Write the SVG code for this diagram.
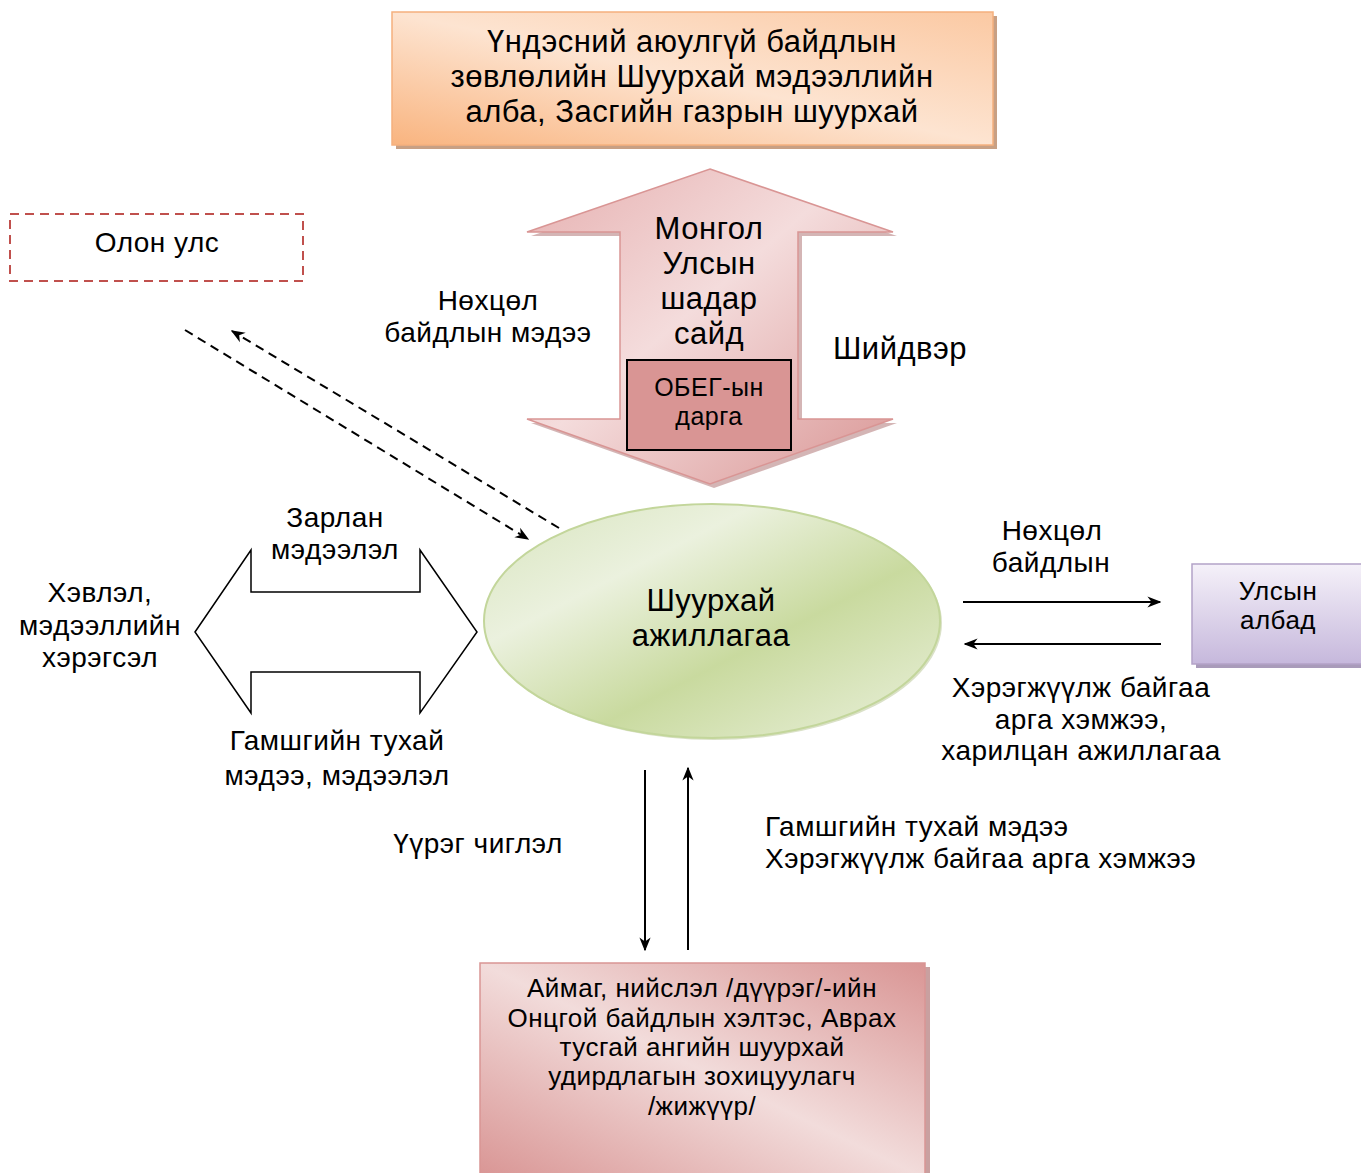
<svg xmlns="http://www.w3.org/2000/svg" width="1361" height="1173" viewBox="0 0 1361 1173">
<style>
text{font-family:"Liberation Sans",Arial,sans-serif;fill:#000;text-anchor:middle;letter-spacing:0.5px}
.t28{font-size:31px}
.t26{font-size:28px}
.t24{font-size:26px}
.t22{font-size:25px}
.ln{stroke:#000;stroke-width:2;fill:none}
.dash{stroke:#000;stroke-width:2;fill:none;stroke-dasharray:9 6}
</style>
<defs>
<linearGradient id="gOrange" x1="0" y1="1" x2="1" y2="0">
<stop offset="0" stop-color="#f9b47f"/>
<stop offset="0.5" stop-color="#fde4d1"/>
<stop offset="1" stop-color="#fbc9a3"/>
</linearGradient>
<linearGradient id="gPinkArrow" x1="0" y1="0" x2="1" y2="1">
<stop offset="0" stop-color="#e6b0b0"/>
<stop offset="0.45" stop-color="#f4dcdc"/>
<stop offset="1" stop-color="#d99594"/>
</linearGradient>
<linearGradient id="gPinkBox" x1="1" y1="0" x2="0" y2="1">
<stop offset="0" stop-color="#d99594"/>
<stop offset="0.5" stop-color="#f2dcdb"/>
<stop offset="1" stop-color="#d99594"/>
</linearGradient>
<linearGradient id="gGreen" x1="0" y1="0" x2="1" y2="1">
<stop offset="0" stop-color="#d7e4bd"/>
<stop offset="0.3" stop-color="#ebf1de"/>
<stop offset="0.6" stop-color="#c9da9f"/>
<stop offset="1" stop-color="#ebf1de"/>
</linearGradient>
<linearGradient id="gPurple" x1="0" y1="0" x2="0" y2="1">
<stop offset="0" stop-color="#f5f1f9"/>
<stop offset="1" stop-color="#c6b8dc"/>
</linearGradient>
<marker id="ahs" viewBox="0 0 10 10" refX="9" refY="5" markerWidth="14" markerHeight="14" markerUnits="userSpaceOnUse" orient="auto">
<path d="M0,1 L10,5 L0,9 L3,5 Z" fill="#000"/>
</marker>
</defs>

<g id="node-top">
<rect x="396" y="16" width="601" height="133" fill="#c8a084"/>
<rect x="392" y="12" width="601" height="133" fill="url(#gOrange)" stroke="#f5b07e" stroke-width="1.5"/>
<text class="t28" x="692" y="52">Үндэсний аюулгүй байдлын</text>
<text class="t28" x="692" y="87">зөвлөлийн Шуурхай мэдээллийн</text>
<text class="t28" x="692" y="122">алба, Засгийн газрын шуурхай</text>
</g>

<g id="node-deputy">
<polygon points="714,173 897,236 802,236 802,423 897,423 714,488 531,423 624,423 624,236 531,236" fill="#c9a3a3" opacity="0.8"/>
<polygon points="710,169 893,232 798,232 798,419 893,419 710,484 527,419 620,419 620,232 527,232" fill="url(#gPinkArrow)" stroke="#d99594" stroke-width="1.5"/>
<text class="t28" x="709" y="239">Монгол</text>
<text class="t28" x="709" y="274">Улсын</text>
<text class="t28" x="709" y="309">шадар</text>
<text class="t28" x="709" y="344">сайд</text>
</g>

<g id="node-obeg">
<rect x="627" y="360" width="164" height="90" fill="#d99594" stroke="#000" stroke-width="2"/>
<text class="t22" x="709" y="396">ОБЕГ-ын</text>
<text class="t22" x="709" y="425">дарга</text>
</g>

<g id="node-olon">
<rect x="10" y="214" width="293" height="67" fill="#fff" stroke="#c0504d" stroke-width="2" stroke-dasharray="9 6"/>
<text class="t26" x="157" y="252">Олон улс</text>
</g>

<g id="node-center">
<ellipse cx="714" cy="623" rx="228" ry="117" fill="#b5c48f" opacity="0.5"/>
<ellipse cx="712" cy="621" rx="228" ry="117" fill="url(#gGreen)" stroke="#c3d69b" stroke-width="2"/>
<text class="t28" x="711" y="611">Шуурхай</text>
<text class="t28" x="711" y="646">ажиллагаа</text>
</g>

<g id="node-media">
<text class="t26" x="100" y="602">Хэвлэл,</text>
<text class="t26" x="100" y="635">мэдээллийн</text>
<text class="t26" x="100" y="667">хэрэгсэл</text>
</g>

<g id="node-ulsyn">
<rect x="1196" y="568" width="170" height="100" fill="#a99bba"/>
<rect x="1192" y="564" width="170" height="100" fill="url(#gPurple)" stroke="#b3a2c7" stroke-width="1.5"/>
<text class="t24" x="1278" y="600">Улсын</text>
<text class="t24" x="1278" y="629">албад</text>
</g>

<g id="node-aimag">
<rect x="484" y="967" width="446" height="210" fill="#c9a0a0"/>
<rect x="480" y="963" width="445" height="215" fill="url(#gPinkBox)" stroke="#d99594" stroke-width="1.5"/>
<text class="t24" x="702" y="997">Аймаг, нийслэл /дүүрэг/-ийн</text>
<text class="t24" x="702" y="1027">Онцгой байдлын хэлтэс, Аврах</text>
<text class="t24" x="702" y="1056">тусгай ангийн шуурхай</text>
<text class="t24" x="702" y="1085">удирдлагын зохицуулагч</text>
<text class="t24" x="702" y="1115">/жижүүр/</text>
</g>

<g id="connectors">
<line class="dash" x1="185" y1="330" x2="528" y2="539" marker-end="url(#ahs)"/>
<line class="dash" x1="559" y1="528" x2="232" y2="331" marker-end="url(#ahs)"/>
<polygon points="195,632 251,550 251,592 420,592 420,550 477,632 420,713 420,672 251,672 251,713" fill="#fff" stroke="#000" stroke-width="1.5"/>
<line class="ln" x1="963" y1="602" x2="1160" y2="602" marker-end="url(#ahs)"/>
<line class="ln" x1="1161" y1="644" x2="965" y2="644" marker-end="url(#ahs)"/>
<line class="ln" x1="645" y1="770" x2="645" y2="950" marker-end="url(#ahs)"/>
<line class="ln" x1="688" y1="950" x2="688" y2="768" marker-end="url(#ahs)"/>
</g>

<g id="labels">
<text class="t26" x="488" y="310">Нөхцөл</text>
<text class="t26" x="488" y="342">байдлын мэдээ</text>
<text class="t28" x="900" y="359">Шийдвэр</text>
<text class="t26" x="335" y="527">Зарлан</text>
<text class="t26" x="335" y="559">мэдээлэл</text>
<text class="t26" x="337" y="750">Гамшгийн тухай</text>
<text class="t26" x="337" y="785">мэдээ, мэдээлэл</text>
<text class="t26" x="1052" y="540">Нөхцөл</text>
<text class="t26" x="1051" y="572">байдлын</text>
<text class="t26" x="1081" y="697">Хэрэгжүүлж байгаа</text>
<text class="t26" x="1081" y="729">арга хэмжээ,</text>
<text class="t26" x="1081" y="760">харилцан ажиллагаа</text>
<text class="t26" x="478" y="853">Үүрэг чиглэл</text>
<text class="t26" x="765" y="836" style="text-anchor:start">Гамшгийн тухай мэдээ</text>
<text class="t26" x="765" y="868" style="text-anchor:start">Хэрэгжүүлж байгаа арга хэмжээ</text>
</g>
</svg>
